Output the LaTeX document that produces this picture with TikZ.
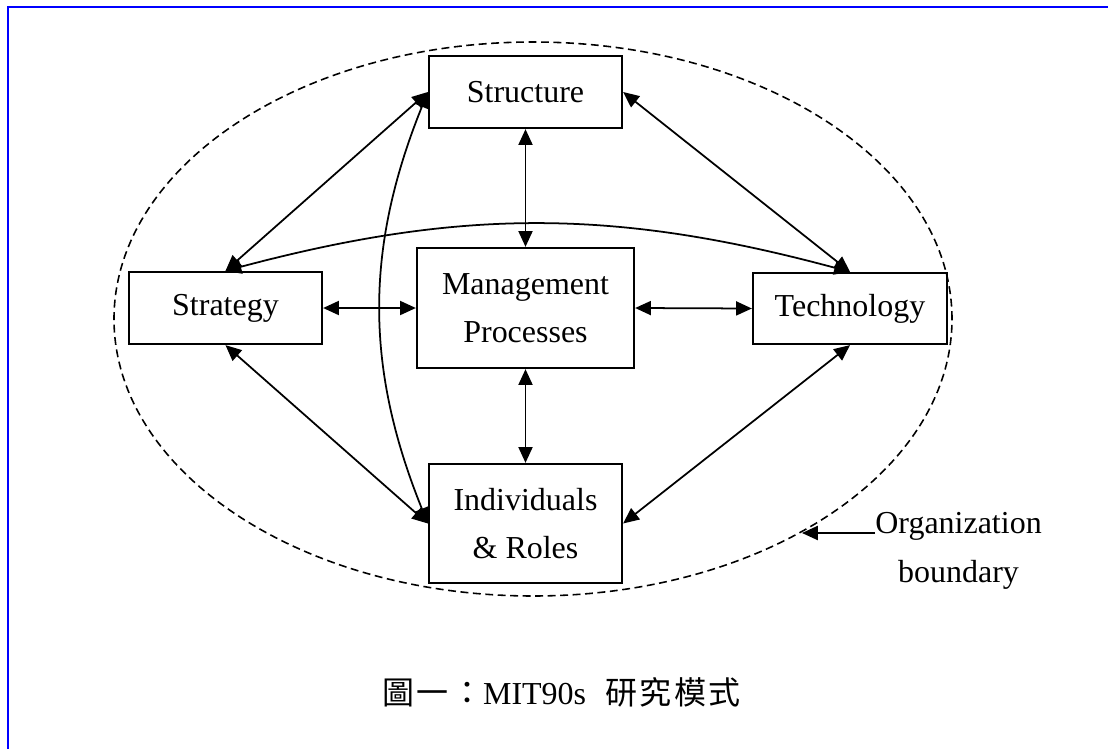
\documentclass[tikz,border=0pt]{standalone}
\usepackage{fontspec}
\setmainfont{Liberation Serif}
\newfontfamily\cjk[LetterSpace=8]{Noto Sans CJK TC}
\usetikzlibrary{arrows.meta}

\tikzset{
  box/.style={draw, line width=1.3pt, inner sep=0pt, align=center,
    minimum width=3.86cm, minimum height=1.44cm},
  link/.style={line width=1pt, <->},
  >={Triangle[length=9pt,width=8pt]},
}

\begin{document}
\begin{tikzpicture}[font=\fontsize{18.2}{27}\selectfont]
  \useasboundingbox (0,0) rectangle (22.16,-14.98);
  % frame, only the top and left sides are on the page
  \draw [blue, line width=1.5pt] (0.16,-14.98) -- (0.16,-0.14) -- (22.16,-0.14);
  % organization boundary
  \draw [dash pattern=on 4.5pt off 2.6pt, line width=0.9pt]
    (10.66,-6.38) ellipse (8.38 and 5.54);

  \node [box] (str) at (10.51,-1.84) {Structure};
  \node [box, minimum width=4.34cm, minimum height=2.4cm] (mgt) at (10.51,-6.16) {Management\\Processes};
  \node [box] (stg) at (4.51,-6.16) {Strategy};
  \node [box, minimum width=3.88cm, minimum height=1.42cm] (tec) at (17.0,-6.17) {Technology};
  \node [box, minimum height=2.38cm] (ind) at (10.51,-10.47) {Individuals\\\& Roles};

  % links to the management processes
  \draw [link] (str) -- (mgt);
  \draw [link] (mgt) -- (ind);
  \draw [link] (stg) -- (mgt);
  \draw [link] (mgt.east) -- (tec.west);

  % outer ring
  \draw [link] (stg.north) -- (str.west);
  \draw [link] (str.east) -- (tec.north);
  \draw [link] (stg.south) -- (ind.west);
  \draw [link] (tec.south) -- (ind.east);
  \draw [link] (stg.north) to [bend left=15] (tec.north);
  \draw [link] (str.west) to [bend right=22] (ind.west);

  % boundary label
  \coordinate (edge) at (16.04,-10.66);
  \node [anchor=base west, inner sep=0pt] (org) at (17.5,-10.66) {Organization};
  \node [anchor=base, inner sep=0pt] (bnd) at ([yshift=-0.98cm]org.base) {boundary};
  \draw [->, line width=1pt] (org.base west) -- (edge);

  \node (cap) at (11.23,-13.84) {{\cjk 圖一：}MIT90s\hspace{0.6em}{\cjk 研究模式}};
\end{tikzpicture}
\end{document}
